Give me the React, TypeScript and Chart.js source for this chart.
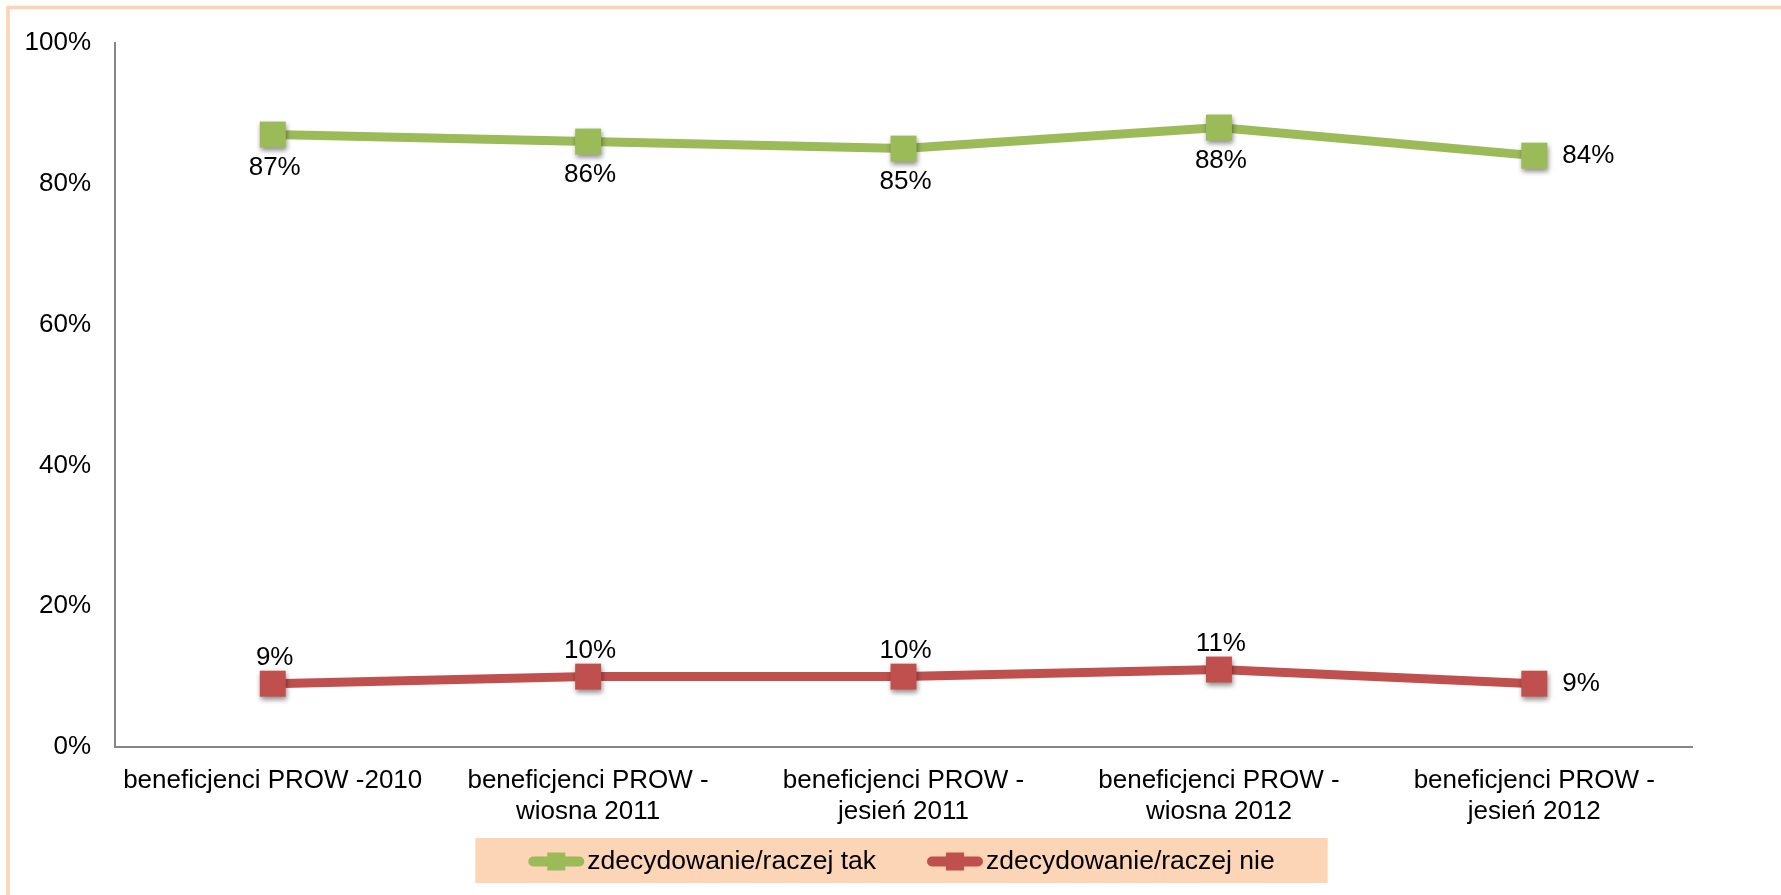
import React, { useEffect, useRef } from "react";
import { Chart, registerables } from "chart.js";

Chart.register(...registerables);

const categories: string[][] = [
  ["beneficjenci PROW -2010"],
  ["beneficjenci PROW -", "wiosna 2011"],
  ["beneficjenci PROW -", "jesień 2011"],
  ["beneficjenci PROW -", "wiosna 2012"],
  ["beneficjenci PROW -", "jesień 2012"],
];
const seriesNames = ["zdecydowanie/raczej tak", "zdecydowanie/raczej nie"];
const yesValues = [87, 86, 85, 88, 84];
const noValues = [9, 10, 10, 11, 9];
const yTickStep = 20;
const yMax = 100;

const GREEN = "#9BBB59";
const RED = "#C0504D";
const FONT = '"Liberation Sans", Arial, sans-serif';
const FONT_SIZE = 26;

function makeMarker(color: string): HTMLCanvasElement {
  const size = 26;
  const pad = 12;
  const c = document.createElement("canvas");
  c.width = size + pad * 2;
  c.height = size + pad * 2;
  const ctx = c.getContext("2d")!;
  ctx.shadowColor = "rgba(0,0,0,0.45)";
  ctx.shadowBlur = 5;
  ctx.shadowOffsetX = 1;
  ctx.shadowOffsetY = 3;
  ctx.fillStyle = color;
  ctx.fillRect(pad, pad, size, size);
  return c;
}

const framePlugin = {
  id: "frame",
  beforeDraw(chart: any) {
    const ctx = chart.ctx;
    ctx.save();
    ctx.strokeStyle = "#FAD4B4";
    ctx.lineWidth = 3.5;
    ctx.strokeRect(8, 7.5, 4000, 4000);
    ctx.restore();
  },
};

const dataLabelPlugin = {
  id: "dataLabels",
  afterDatasetsDraw(chart: any) {
    const ctx = chart.ctx;
    ctx.save();
    ctx.font = `${FONT_SIZE}px ${FONT}`;
    ctx.fillStyle = "#000";
    ctx.textBaseline = "middle";
    chart.data.datasets.forEach((ds: any, di: number) => {
      const meta = chart.getDatasetMeta(di);
      meta.data.forEach((pt: any, i: number) => {
        const text = ds.data[i] + "%";
        const last = i === ds.data.length - 1;
        if (last) {
          ctx.textAlign = "left";
          ctx.fillText(text, pt.x + 28, pt.y);
        } else {
          ctx.textAlign = "center";
          ctx.fillText(text, pt.x + 2, pt.y + (di === 0 ? 33 : -26));
        }
      });
    });
    ctx.restore();
  },
};

const legendPlugin = {
  id: "customLegend",
  afterDraw(chart: any) {
    const ctx = chart.ctx;
    const area = chart.chartArea;
    ctx.save();
    ctx.font = `${FONT_SIZE + 0.5}px ${FONT}`;
    const iconW = 56;
    const iconGap = 3;
    const itemGap = 51;
    const items = chart.data.datasets.map((ds: any) => ({
      label: ds.label,
      color: ds.borderColor,
      w: ctx.measureText(ds.label).width,
    }));
    let contentW = 0;
    items.forEach((it: any, i: number) => {
      contentW += iconW + iconGap + it.w + (i < items.length - 1 ? itemGap : 0);
    });
    const cx = (area.left + area.right) / 2 - 2;
    const boxW = contentW + 106;
    const boxTop = 838;
    const boxH = 45;
    ctx.fillStyle = "#FBD5B5";
    ctx.fillRect(cx - boxW / 2, boxTop, boxW, boxH);
    let x = cx - contentW / 2;
    const cy = boxTop + boxH / 2 + 1;
    items.forEach((it: any) => {
      ctx.strokeStyle = it.color;
      ctx.lineWidth = 10;
      ctx.lineCap = "round";
      ctx.beginPath();
      ctx.moveTo(x + 5, cy);
      ctx.lineTo(x + iconW - 5, cy);
      ctx.stroke();
      ctx.fillStyle = it.color;
      ctx.fillRect(x + iconW / 2 - 9, cy - 9, 18, 18);
      ctx.fillStyle = "#000";
      ctx.textAlign = "left";
      ctx.textBaseline = "middle";
      ctx.fillText(it.label, x + iconW + iconGap, cy);
      x += iconW + iconGap + it.w + itemGap;
    });
    ctx.restore();
  },
};

export default function App() {
  const ref = useRef<HTMLCanvasElement | null>(null);

  useEffect(() => {
    document.body.style.margin = "0";
    const canvas = ref.current!;
    const chart = new Chart(canvas, {
      type: "line",
      data: {
        labels: categories,
        datasets: [
          {
            label: seriesNames[0],
            data: yesValues,
            borderColor: GREEN,
            backgroundColor: GREEN,
            borderWidth: 9,
            pointStyle: makeMarker(GREEN) as any,
            tension: 0,
          },
          {
            label: seriesNames[1],
            data: noValues,
            borderColor: RED,
            backgroundColor: RED,
            borderWidth: 9,
            pointStyle: makeMarker(RED) as any,
            tension: 0,
          },
        ],
      },
      options: {
        responsive: false,
        animation: false,
        layout: { padding: { top: 43, right: 89, bottom: 0, left: 0 } },
        plugins: {
          legend: { display: false },
          tooltip: { enabled: false },
          title: { display: false },
        },
        scales: {
          x: {
            type: "category",
            offset: true,
            grid: { display: false, drawTicks: false },
            border: { display: true, color: "#868686", width: 2 },
            ticks: {
              color: "#000",
              font: { family: FONT, size: FONT_SIZE, lineHeight: 1.2 },
              padding: 18,
              autoSkip: false,
              maxRotation: 0,
              minRotation: 0,
            },
            afterFit(scale: any) {
              scale.height = 148;
            },
          },
          y: {
            min: 0,
            max: yMax,
            grid: { display: false, drawTicks: false },
            border: { display: true, color: "#868686", width: 2 },
            ticks: {
              stepSize: yTickStep,
              color: "#000",
              font: { family: FONT, size: FONT_SIZE },
              padding: 24,
              callback: (v: any) => v + "%",
            },
            afterFit(scale: any) {
              scale.width = 115;
            },
          },
        },
      },
      plugins: [framePlugin, dataLabelPlugin, legendPlugin],
    });
    return () => chart.destroy();
  }, []);

  return (
    <div style={{ width: 1781, height: 895, overflow: "hidden", background: "#fff" }}>
      <canvas ref={ref} width={1781} height={895} style={{ display: "block" }} />
    </div>
  );
}
